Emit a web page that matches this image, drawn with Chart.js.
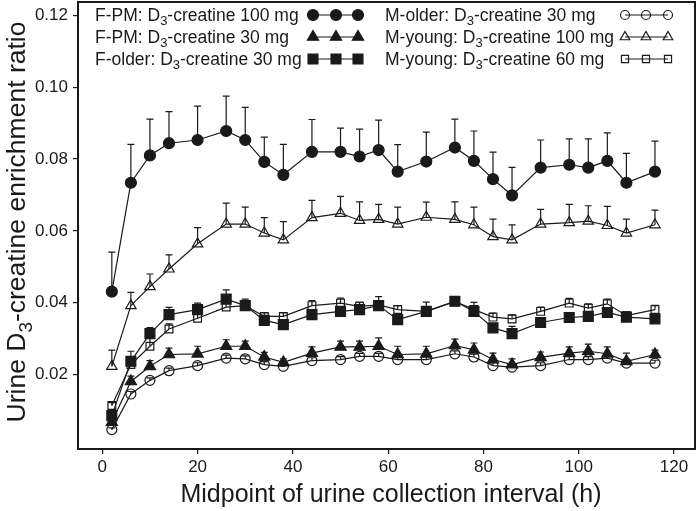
<!DOCTYPE html>
<html>
<head>
<meta charset="utf-8">
<title>Urine D3-creatine enrichment</title>
<script src="https://cdn.jsdelivr.net/npm/chart.js@4.4.0/dist/chart.umd.min.js"></script>
<style>
    html, body { margin: 0; padding: 0; background: #fff; }
    #wrap { width: 698px; height: 511px; }
</style>
</head>
<body>
<div id="wrap"><canvas id="chartEnrich" width="698" height="511"></canvas></div>
<script>
// Midpoint of each urine collection interval (h)
const hours = [2, 6, 10, 14, 20, 26, 30, 34, 38, 44, 50, 54, 58, 62, 68, 74, 78, 82, 86, 92, 98, 102, 106, 110, 116];

// Mean enrichment ratio per group, plus the top of the SD bar
const fpm100 = [0.0431, 0.0734, 0.0810, 0.0844, 0.0853, 0.0878, 0.0853, 0.0792, 0.0756, 0.0820, 0.0820, 0.0807, 0.0825, 0.0765, 0.0793, 0.0832, 0.0795, 0.0744, 0.0699, 0.0776, 0.0784, 0.0776, 0.0795, 0.0734, 0.0765];
const fpm100Up = [0.0541, 0.0841, 0.0911, 0.0932, 0.0947, 0.0975, 0.0944, 0.0861, 0.0841, 0.0910, 0.0886, 0.0883, 0.0908, 0.0840, 0.0875, 0.0911, 0.0878, 0.0819, 0.0777, 0.0853, 0.0856, 0.0856, 0.0873, 0.0816, 0.0850];

const fpm30 = [0.0068, 0.0181, 0.0223, 0.0256, 0.0258, 0.0279, 0.0279, 0.0249, 0.0234, 0.0260, 0.0277, 0.0277, 0.0279, 0.0256, 0.0258, 0.0281, 0.0269, 0.0242, 0.0228, 0.0248, 0.0260, 0.0265, 0.0258, 0.0237, 0.0256];
const fpm30Up = [0.0075, 0.0196, 0.0239, 0.0274, 0.0279, 0.0297, 0.0293, 0.0262, 0.0244, 0.0277, 0.0293, 0.0293, 0.0302, 0.0279, 0.0279, 0.0299, 0.0288, 0.0260, 0.0244, 0.0263, 0.0277, 0.0285, 0.0277, 0.0260, 0.0268];

const fOlder30 = [0.0086, 0.0237, 0.0314, 0.0367, 0.0381, 0.0410, 0.0392, 0.0351, 0.0339, 0.0367, 0.0376, 0.0381, 0.0392, 0.0353, 0.0376, 0.0404, 0.0376, 0.0330, 0.0314, 0.0345, 0.0359, 0.0362, 0.0373, 0.0360, 0.0355];
const fOlder30Up = [0.0095, 0.0265, 0.0331, 0.0387, 0.0399, 0.0436, 0.0410, 0.0360, 0.0348, 0.0378, 0.0386, 0.0392, 0.0417, 0.0362, 0.0402, 0.0412, 0.0401, 0.0338, 0.0334, 0.0352, 0.0368, 0.0370, 0.0385, 0.0368, 0.0362];

const mOlder30 = [0.0047, 0.0146, 0.0184, 0.0211, 0.0225, 0.0246, 0.0244, 0.0228, 0.0223, 0.0239, 0.0242, 0.0251, 0.0251, 0.0242, 0.0242, 0.0258, 0.0249, 0.0225, 0.0221, 0.0225, 0.0242, 0.0242, 0.0246, 0.0232, 0.0232];
const mOlder30Up = [0.0052, 0.0153, 0.0191, 0.0218, 0.0233, 0.0254, 0.0252, 0.0236, 0.0231, 0.0247, 0.0250, 0.0259, 0.0259, 0.0250, 0.0250, 0.0266, 0.0257, 0.0233, 0.0229, 0.0233, 0.0250, 0.0250, 0.0254, 0.0240, 0.0240];

const mYoung100 = [0.0223, 0.0392, 0.0445, 0.0494, 0.0564, 0.0619, 0.0619, 0.0594, 0.0575, 0.0637, 0.0649, 0.0629, 0.0632, 0.0619, 0.0638, 0.0632, 0.0617, 0.0584, 0.0575, 0.0619, 0.0623, 0.0627, 0.0615, 0.0594, 0.0617];
const mYoung100Up = [0.0268, 0.0429, 0.0480, 0.0533, 0.0609, 0.0677, 0.0666, 0.0637, 0.0626, 0.0685, 0.0696, 0.0681, 0.0674, 0.0666, 0.0680, 0.0681, 0.0666, 0.0633, 0.0617, 0.0660, 0.0674, 0.0670, 0.0668, 0.0633, 0.0658];

const mYoung60 = [0.0114, 0.0228, 0.0279, 0.0327, 0.0357, 0.0388, 0.0392, 0.0362, 0.0362, 0.0392, 0.0399, 0.0390, 0.0394, 0.0381, 0.0376, 0.0404, 0.0381, 0.0360, 0.0355, 0.0376, 0.0399, 0.0385, 0.0397, 0.0364, 0.0381];
const mYoung60Up = [0.0122, 0.0238, 0.0301, 0.0341, 0.0368, 0.0399, 0.0402, 0.0372, 0.0372, 0.0406, 0.0413, 0.0401, 0.0406, 0.0392, 0.0386, 0.0414, 0.0392, 0.0371, 0.0366, 0.0388, 0.0412, 0.0397, 0.0410, 0.0375, 0.0393];

// Axis ticks
const xTicks = [0, 20, 40, 60, 80, 100, 120];
const yTicks = [0.02, 0.04, 0.06, 0.08, 0.10, 0.12];

// Legend text, split around the subscript 3
const legendLeft = [
    ["F-PM: D", "-creatine 100 mg"],
    ["F-PM: D", "-creatine 30 mg"],
    ["F-older: D", "-creatine 30 mg"]
];
const legendRight = [
    ["M-older: D", "-creatine 30 mg"],
    ["M-young: D", "-creatine 100 mg"],
    ["M-young: D", "-creatine 60 mg"]
];

const FONT = "'Liberation Sans', Arial, Helvetica, sans-serif";
const INK = "#1a1a1a";

Chart.defaults.font.family = FONT;
Chart.defaults.color = INK;

const toPoints = arr => hours.map((h, i) => ({ x: h, y: arr[i] }));

function series(label, values, upper, style, radius, filled) {
    return {
        label,
        data: toPoints(values),
        errUpper: upper,
        borderColor: INK,
        borderWidth: 1.2,
        pointStyle: style,
        pointRadius: radius,
        pointBorderWidth: 1.2,
        pointBorderColor: INK,
        pointBackgroundColor: filled ? INK : "rgba(0,0,0,0)",
        fill: false,
        tension: 0
    };
}

// draw "D" + subscript 3 text pieces in sequence
function drawRich(ctx, before, after, x, y, size, align) {
    const subSize = Math.round(size * 0.72);
    ctx.font = `${size}px ${FONT}`;
    const w1 = ctx.measureText(before).width;
    const w3 = ctx.measureText(after).width;
    ctx.font = `${subSize}px ${FONT}`;
    const w2 = ctx.measureText("3").width;
    const total = w1 + w2 + w3;
    let start = x;
    if (align === "center") start = x - total / 2;
    ctx.textAlign = "left";
    ctx.textBaseline = "alphabetic";
    ctx.font = `${size}px ${FONT}`;
    ctx.fillText(before, start, y);
    ctx.font = `${subSize}px ${FONT}`;
    ctx.fillText("3", start + w1, y + size * 0.25);
    ctx.font = `${size}px ${FONT}`;
    ctx.fillText(after, start + w1 + w2, y);
}

// upward SD bars with a small cap
const errorBars = {
    id: "errorBars",
    beforeDatasetsDraw(chart) {
        const { ctx, scales } = chart;
        ctx.save();
        ctx.strokeStyle = INK;
        ctx.lineWidth = 1.2;
        chart.data.datasets.forEach(ds => {
            ds.data.forEach((p, i) => {
                const x = scales.x.getPixelForValue(p.x);
                const y0 = scales.y.getPixelForValue(p.y);
                const y1 = scales.y.getPixelForValue(ds.errUpper[i]);
                ctx.beginPath();
                ctx.moveTo(x, y0);
                ctx.lineTo(x, y1);
                ctx.moveTo(x - 3.5, y1);
                ctx.lineTo(x + 3.5, y1);
                ctx.stroke();
            });
        });
        ctx.restore();
    }
};

// frame, legend block and axis titles (y title needs a subscript)
const decorations = {
    id: "decorations",
    afterDraw(chart) {
        const { ctx, chartArea: a } = chart;
        ctx.save();
        ctx.strokeStyle = INK;
        ctx.lineWidth = 2;
        ctx.strokeRect(a.left, a.top, a.right - a.left, a.bottom - a.top);

        ctx.fillStyle = INK;
        const rowBase = [21, 43, 65];
        const rowMid = [15, 37, 59];

        const leftStyles = [["circle", 5.5, true], ["triangle", 6.5, true], ["rect", 7, true]];
        const rightStyles = [["circle", 4.5, false], ["triangle", 5.5, false], ["rect", 5, false]];

        const drawKey = (styles, texts, textX, mx) => {
            texts.forEach((t, r) => {
                ctx.fillStyle = INK;
                drawRich(ctx, t[0], t[1], textX, rowBase[r], 17.5, "left");
                ctx.strokeStyle = INK;
                ctx.lineWidth = 1.2;
                ctx.beginPath();
                ctx.moveTo(mx[0], rowMid[r]);
                ctx.lineTo(mx[2], rowMid[r]);
                ctx.stroke();
                const [style, rad, filled] = styles[r];
                ctx.fillStyle = filled ? INK : "rgba(0,0,0,0)";
                mx.forEach(px => {
                    Chart.helpers.drawPoint(ctx, { pointStyle: style, radius: rad, borderWidth: 1.2 }, px, rowMid[r]);
                });
            });
        };
        drawKey(leftStyles, legendLeft, 95, [313, 336, 358]);
        drawKey(rightStyles, legendRight, 385, [625, 646, 668]);

        // x axis title
        ctx.fillStyle = INK;
        ctx.font = `25px ${FONT}`;
        ctx.textAlign = "center";
        ctx.textBaseline = "middle";
        ctx.fillText("Midpoint of urine collection interval (h)", 391, 495);

        // y axis title
        ctx.save();
        ctx.translate(25, 222);
        ctx.rotate(-Math.PI / 2);
        ctx.fillStyle = INK;
        drawRich(ctx, "Urine D", "-creatine enrichment ratio", 0, 0, 26.5, "center");
        ctx.restore();

        ctx.restore();
    }
};

new Chart(document.getElementById("chartEnrich"), {
    type: "line",
    data: {
        datasets: [
            series("F-PM: D3-creatine 100 mg", fpm100, fpm100Up, "circle", 5.5, true),
            series("F-older: D3-creatine 30 mg", fOlder30, fOlder30Up, "rect", 7, true),
            series("F-PM: D3-creatine 30 mg", fpm30, fpm30Up, "triangle", 6.5, true),
            series("M-older: D3-creatine 30 mg", mOlder30, mOlder30Up, "circle", 5, false),
            series("M-young: D3-creatine 100 mg", mYoung100, mYoung100Up, "triangle", 6, false),
            series("M-young: D3-creatine 60 mg", mYoung60, mYoung60Up, "rect", 5.5, false)
        ]
    },
    options: {
        responsive: false,
        animation: false,
        layout: { autoPadding: false, padding: { top: 2, right: 3, left: 0, bottom: 0 } },
        plugins: {
            legend: { display: false },
            tooltip: { enabled: false }
        },
        scales: {
            x: {
                type: "linear",
                min: -5.1,
                max: 124.4,
                afterBuildTicks: s => { s.ticks = xTicks.map(v => ({ value: v })); },
                afterFit: s => { s.height = 62; s.paddingLeft = 0; s.paddingRight = 0; },
                border: { display: false },
                grid: { drawOnChartArea: false, drawTicks: true, tickLength: 5, color: INK, lineWidth: 1.2 },
                ticks: { font: { size: 17 }, color: INK, padding: 3, maxRotation: 0 },
                title: { display: false }
            },
            y: {
                min: -0.0007,
                max: 0.1237,
                afterBuildTicks: s => { s.ticks = yTicks.map(v => ({ value: v })); },
                afterFit: s => { s.width = 78; s.paddingTop = 0; s.paddingBottom = 0; },
                border: { display: false },
                grid: { drawOnChartArea: false, drawTicks: true, tickLength: 5, color: INK, lineWidth: 1.2 },
                ticks: {
                    font: { size: 17 },
                    color: INK,
                    padding: 5,
                    callback: v => v.toFixed(2)
                }
            }
        }
    },
    plugins: [errorBars, decorations]
});
</script>
</body>
</html>
